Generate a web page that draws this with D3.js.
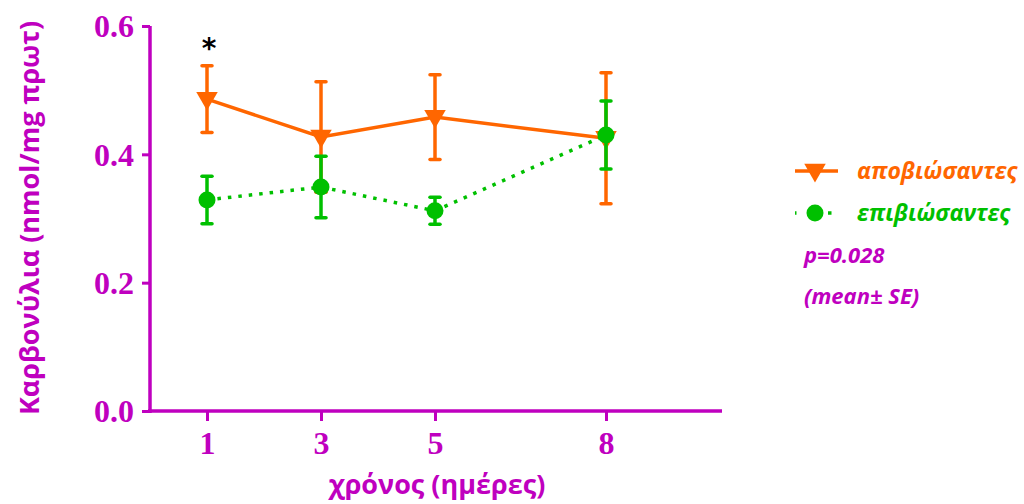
<!DOCTYPE html>
<html>
<head>
<meta charset="utf-8">
<script src="https://cdn.jsdelivr.net/npm/d3@7"></script>
<style>
  body { margin: 0; background: #fff; }
</style>
</head>
<body>
<div id="viz"></div>
<script>
const width = 1024;
const height = 504;
const magenta = '#bf00bf';
const orange = '#ff6600';
const green = '#00c000';

// data
const days = [1, 3, 5, 8];
const deadMean = [0.486, 0.427, 0.458, 0.425];
const deadSE = [0.052, 0.086, 0.066, 0.102];
const aliveMean = [0.329, 0.349, 0.312, 0.430];
const aliveSE = [0.037, 0.048, 0.021, 0.053];
const yTicks = [0.0, 0.2, 0.4, 0.6];
const seriesNames = ['αποβιώσαντες', 'επιβιώσαντες'];

const xScale = d3.scaleLinear().domain([0, 10]).range([150, 720]);
const yScale = d3.scaleLinear().domain([0, 0.6]).range([411, 26]);

const svg = d3.select('#viz')
    .append('svg')
        .attr('width', width)
        .attr('height', height);

// axes
const yAxis = svg.append('g')
    .attr('transform', 'translate(150,0)')
    .call(d3.axisLeft(yScale).tickValues(yTicks).tickFormat(d3.format('.1f')).tickSize(8).tickSizeOuter(0));
const xAxis = svg.append('g')
    .attr('transform', 'translate(0,411)')
    .call(d3.axisBottom(xScale).tickValues(days).tickSize(10).tickSizeOuter(0));

[xAxis, yAxis].forEach(ax => {
    ax.select('.domain').attr('stroke', magenta).attr('stroke-width', 3.5);
    ax.selectAll('.tick line').attr('stroke', magenta).attr('stroke-width', 3);
    ax.selectAll('.tick text')
        .attr('fill', magenta)
        .style('font-family', '"Liberation Serif", serif')
        .style('font-weight', 'bold')
        .style('font-size', '32px');
});
yAxis.select('.domain').attr('d', 'M0,26V413');
xAxis.select('.domain').attr('d', 'M148,0H722');
yAxis.selectAll('.tick text').attr('x', -16).attr('dy', '0.34em');
xAxis.selectAll('.tick text').attr('y', 20);

// axis titles
svg.append('text')
    .attr('transform', 'translate(39,218) rotate(-90)')
    .attr('text-anchor', 'middle')
    .attr('fill', magenta)
    .style('font-family', '"Open Sans", sans-serif')
    .style('font-weight', 'bold')
    .style('font-size', '27px')
    .text('Καρβονύλια (nmol/mg πρωτ)');

svg.append('text')
    .attr('x', 437)
    .attr('y', 494)
    .attr('text-anchor', 'middle')
    .attr('fill', magenta)
    .style('font-family', '"Open Sans", sans-serif')
    .style('font-weight', 'bold')
    .style('font-size', '27px')
    .text('χρόνος (ημέρες)');

const tri = d3.symbol().type(d3.symbolTriangle).size(200);

function drawSeries(means, ses, color, dashed, marker) {
    const pts = days.map((d, i) => ({ x: d, m: means[i], se: ses[i] }));
    const g = svg.append('g');
    const line = d3.line().x(d => xScale(d.x)).y(d => yScale(d.m));
    g.append('path')
        .datum(pts)
        .attr('d', line)
        .attr('fill', 'none')
        .attr('stroke', color)
        .attr('stroke-width', 3.5)
        .attr('stroke-dasharray', dashed ? '3.5,7' : null);
    const eb = g.selectAll('.eb').data(pts).join('g');
    eb.append('line')
        .attr('x1', d => xScale(d.x)).attr('x2', d => xScale(d.x))
        .attr('y1', d => yScale(d.m + d.se)).attr('y2', d => yScale(d.m - d.se))
        .attr('stroke', color).attr('stroke-width', 3.5);
    [1, -1].forEach(s => {
        eb.append('line')
            .attr('x1', d => xScale(d.x) - 5).attr('x2', d => xScale(d.x) + 5)
            .attr('y1', d => yScale(d.m + s * d.se)).attr('y2', d => yScale(d.m + s * d.se))
            .attr('stroke', color).attr('stroke-width', 3.5).attr('stroke-linecap', 'round');
    });
    if (marker === 'tri') {
        eb.append('path')
            .attr('d', tri)
            .attr('transform', d => `translate(${xScale(d.x)},${yScale(d.m) - 1}) rotate(180)`)
            .attr('fill', color);
    } else {
        eb.append('circle')
            .attr('cx', d => xScale(d.x)).attr('cy', d => yScale(d.m))
            .attr('r', 8.5).attr('fill', color);
    }
}

drawSeries(deadMean, deadSE, orange, false, 'tri');
drawSeries(aliveMean, aliveSE, green, true, 'circle');

// significance mark
svg.append('text')
    .attr('x', xScale(days[0]) + 2)
    .attr('y', 58)
    .attr('text-anchor', 'middle')
    .style('font-family', '"DejaVu Sans", sans-serif')
    .style('font-weight', 'bold')
    .style('font-size', '28px')
    .text('*');

// legend
const legend = svg.append('g');
const legColors = [orange, green];
seriesNames.forEach((name, i) => {
    const y = 171 + i * 42;
    legend.append('line')
        .attr('x1', 795).attr('x2', 838).attr('y1', y).attr('y2', y)
        .attr('stroke', legColors[i]).attr('stroke-width', 3.5)
        .attr('stroke-dasharray', i === 1 ? '3.5,14' : null)
        .attr('stroke-dashoffset', i === 1 ? 2 : null);
    if (i === 0) {
        legend.append('path').attr('d', tri)
            .attr('transform', `translate(815,${y - 1}) rotate(180)`)
            .attr('fill', legColors[i]);
    } else {
        legend.append('circle').attr('cx', 815).attr('cy', y).attr('r', 8.5).attr('fill', legColors[i]);
    }
    legend.append('text')
        .attr('x', 857).attr('y', y + 8)
        .attr('fill', legColors[i])
        .style('font-family', '"Open Sans", sans-serif')
        .style('font-weight', 'bold')
        .style('font-style', 'italic')
        .style('font-size', '23px')
        .text(name);
});

['p=0.028', '(mean± SE)'].forEach((t, i) => {
    legend.append('text')
        .attr('x', 804).attr('y', 263 + i * 41)
        .attr('fill', magenta)
        .style('font-family', '"Open Sans", sans-serif')
        .style('font-weight', 'bold')
        .style('font-style', 'italic')
        .style('font-size', '22px')
        .text(t);
});
</script>
</body>
</html>
